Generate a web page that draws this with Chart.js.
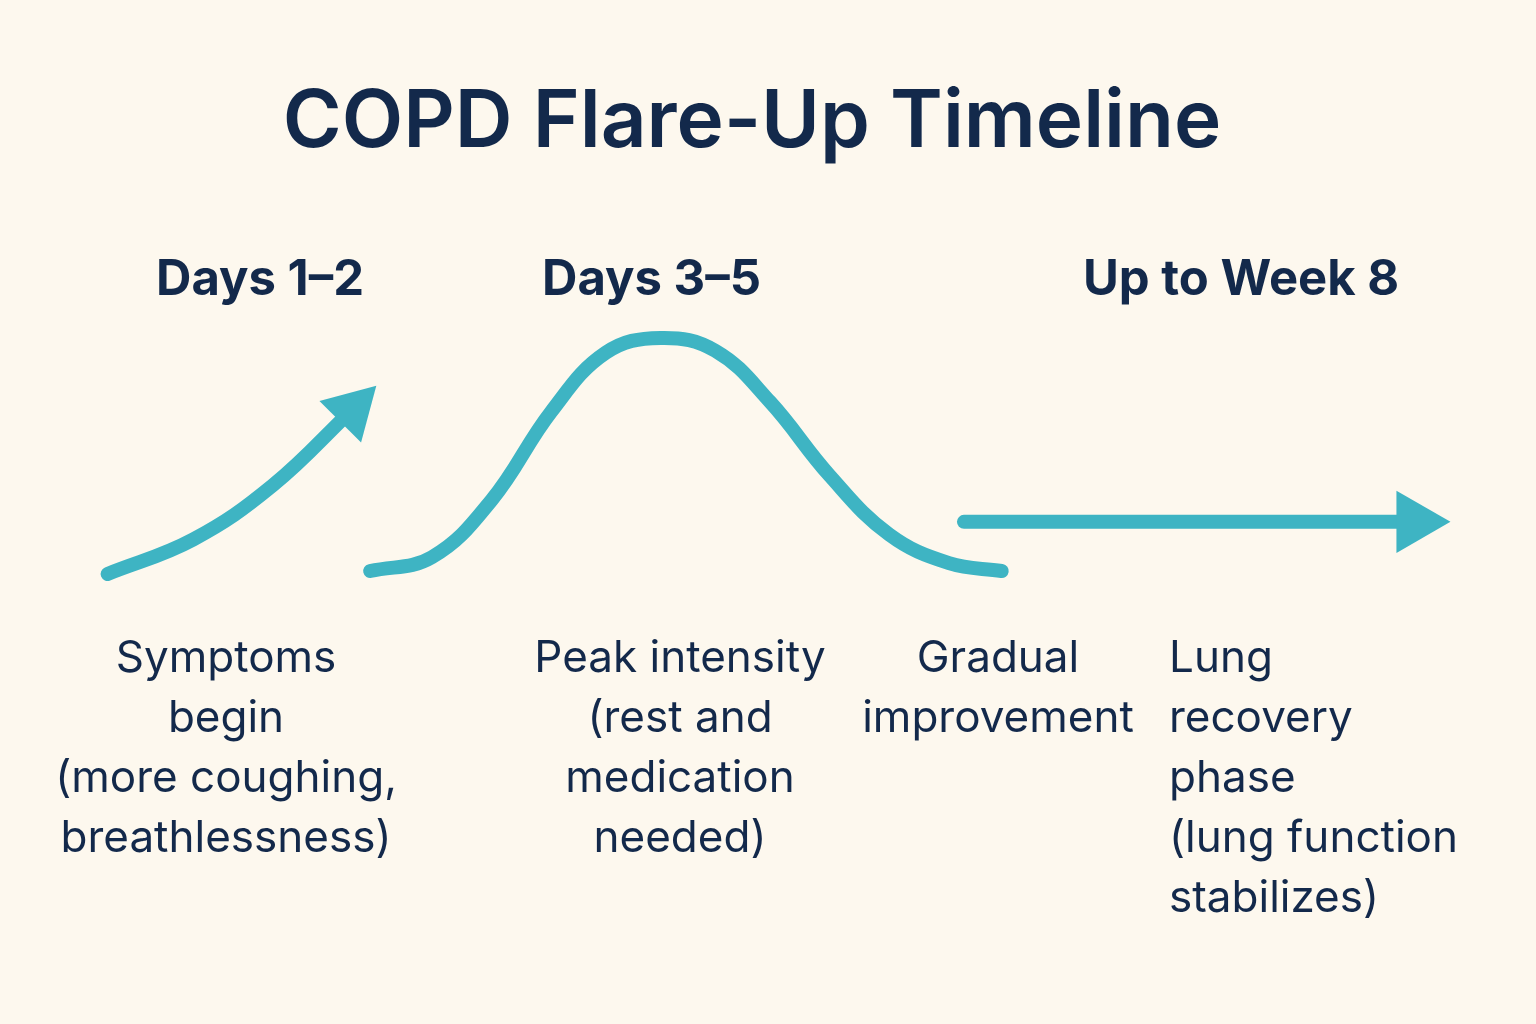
<!DOCTYPE html>
<html>
<head>
<meta charset="utf-8">
<script src="https://cdn.jsdelivr.net/npm/chart.js@4"></script>
<style>
  body { margin: 0; background: #fdf8ee; font-family: "Inter", "Noto Sans", sans-serif; color: #13294b; }
  #wrap { position: relative; width: 1536px; height: 1024px; }
  canvas { position: absolute; left: 0; top: 0; }
  .t { position: absolute; white-space: nowrap; line-height: 60px; }
  .title { font-size: 80px; font-weight: 600; left: 0; width: 1504px; text-align: center; top: 78px; line-height: 80px; }
  .head { font-size: 49px; font-weight: 700; top: 248px; }
  .body { font-size: 44px; top: 626px; }
</style>
</head>
<body>
<div id="wrap">
  <canvas id="c" width="1536" height="1024"></canvas>
  <div class="t title">COPD Flare-Up Timeline</div>
  <div class="t head" style="left:156px">Days 1–2</div>
  <div class="t head" style="left:542px">Days 3–5</div>
  <div class="t head" style="left:1083px">Up to Week 8</div>
  <div class="t body" style="left:226px;transform:translateX(-50%);text-align:center">Symptoms<br>begin<br>(more coughing,<br>breathlessness)</div>
  <div class="t body" style="left:680px;transform:translateX(-50%);text-align:center">Peak intensity<br>(rest and<br>medication<br>needed)</div>
  <div class="t body" style="left:998px;transform:translateX(-50%);text-align:center">Gradual<br>improvement</div>
  <div class="t body" style="left:1169px">Lung<br>recovery<br>phase<br>(lung function<br>stabilizes)</div>
</div>
<script>
// curve points (x, y in picture units)
var riseX = [104, 190, 270, 350];
var riseY = [575, 540, 485, 408];
var peakX = [368, 430, 490, 550, 605, 660, 715, 770, 830, 890, 950, 1003];
var peakY = [572, 558, 500, 410, 350, 335, 348, 400, 475, 535, 564, 572];
var flatX = [965, 1418];
var flatY = [522, 522];

function pts(xs, ys) {
  return xs.map(function (x, i) { return { x: x, y: ys[i] }; });
}
var teal = "#3eb4c3";

function lastArrow(n, rot, r) {
  return {
    radius: function (ctx) { return ctx.dataIndex === n - 1 ? r : 0; },
    style: "triangle",
    rotation: rot
  };
}

var a1 = lastArrow(riseX.length, 45, 34);
var a3 = lastArrow(flatX.length, 90, 36);

new Chart(document.getElementById("c"), {
  type: "scatter",
  data: {
    datasets: [
      { data: pts(riseX, riseY), showLine: true, tension: 0.4, borderColor: teal, borderWidth: 14,
        borderCapStyle: "round", pointRadius: a1.radius, pointStyle: a1.style, pointRotation: a1.rotation,
        pointBackgroundColor: teal, pointBorderWidth: 0 },
      { data: pts(peakX, peakY), showLine: true, tension: 0.4, borderColor: teal, borderWidth: 14,
        borderCapStyle: "round", pointRadius: 0 },
      { data: pts(flatX, flatY), showLine: true, borderColor: teal, borderWidth: 14,
        borderCapStyle: "round", pointRadius: a3.radius, pointStyle: a3.style, pointRotation: a3.rotation,
        pointBackgroundColor: teal, pointBorderWidth: 0 }
    ]
  },
  options: {
    responsive: false,
    animation: false,
    layout: { padding: 0 },
    plugins: { legend: { display: false }, tooltip: { enabled: false } },
    scales: {
      x: { type: "linear", min: 32, max: 1504, display: false },
      y: { type: "linear", min: 28, max: 996, reverse: true, display: false }
    }
  }
});
</script>
</body>
</html>
